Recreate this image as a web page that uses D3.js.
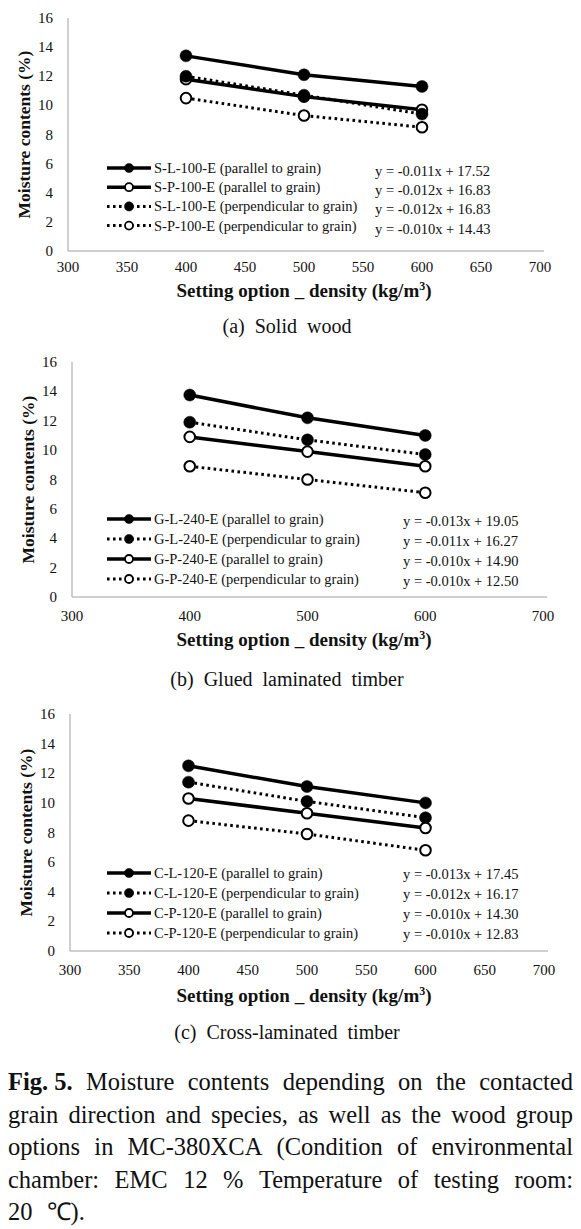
<!DOCTYPE html>
<html><head><meta charset="utf-8">
<script src="https://cdn.jsdelivr.net/npm/d3@7/dist/d3.min.js"></script>
<style>
html,body{margin:0;padding:0;background:#fff;}
svg{display:block;}
text{font-family:"Liberation Serif","Times New Roman",serif;fill:#111;}
</style></head>
<body>
<svg id="chart" width="581" height="1229"></svg>
<script>
// ---------------- DATA ----------------
const densities = [400, 500, 600];
const yTicks = [0, 2, 4, 6, 8, 10, 12, 14, 16];
const xTicksFine = [300, 350, 400, 450, 500, 550, 600, 650, 700];
const xTicksCoarse = [300, 400, 500, 600, 700];

// (a) Solid wood
const solidNames = ["S-L-100-E (parallel to grain)", "S-P-100-E (parallel to grain)",
  "S-L-100-E (perpendicular to grain)", "S-P-100-E (perpendicular to grain)"];
const solidValues = [[13.4, 12.1, 11.3], [11.8, 10.6, 9.7], [12.0, 10.7, 9.4], [10.5, 9.3, 8.5]];
const solidEquations = ["y = -0.011x + 17.52", "y = -0.012x + 16.83", "y = -0.012x + 16.83", "y = -0.010x + 14.43"];

// (b) Glued laminated timber
const gluedNames = ["G-L-240-E (parallel to grain)", "G-L-240-E (perpendicular to grain)",
  "G-P-240-E (parallel to grain)", "G-P-240-E (perpendicular to grain)"];
const gluedValues = [[13.75, 12.2, 11.0], [11.9, 10.7, 9.7], [10.9, 9.9, 8.9], [8.9, 8.0, 7.1]];
const gluedEquations = ["y = -0.013x + 19.05", "y = -0.011x + 16.27", "y = -0.010x + 14.90", "y = -0.010x + 12.50"];

// (c) Cross-laminated timber
const crossNames = ["C-L-120-E (parallel to grain)", "C-L-120-E (perpendicular to grain)",
  "C-P-120-E (parallel to grain)", "C-P-120-E (perpendicular to grain)"];
const crossValues = [[12.5, 11.1, 10.0], [11.4, 10.1, 9.0], [10.3, 9.3, 8.3], [8.8, 7.9, 6.8]];
const crossEquations = ["y = -0.013x + 17.45", "y = -0.012x + 16.17", "y = -0.010x + 14.30", "y = -0.010x + 12.83"];

const subCaptions = ["(a)  Solid  wood", "(b)  Glued  laminated  timber", "(c)  Cross-laminated  timber"];
const yAxisTitle = "Moisture contents (%)";
const xAxisTitle = "Setting option _ density (kg/m";

const captionLines = [
  ["Fig. 5.", "Moisture", "contents", "depending", "on", "the", "contacted"],
  ["grain", "direction", "and", "species,", "as", "well", "as", "the", "wood", "group"],
  ["options", "in", "MC-380XCA", "(Condition", "of", "environmental"],
  ["chamber:", "EMC", "12", "%", "Temperature", "of", "testing", "room:"],
  ["20", "℃)."]
];

// ---------------- LAYOUT ----------------
const panels = [
  {names: solidNames, values: solidValues, eqs: solidEquations, ticks: xTicksFine,
   x0: 68, x1: 540, yT: 18, yB: 251, legY: 168, legStep: 19.2, eqX: 375, eqDy: 3,
   tickY: 272, titleY: 297, subY: 333},
  {names: gluedNames, values: gluedValues, eqs: gluedEquations, ticks: xTicksCoarse,
   x0: 72, x1: 543, yT: 362, yB: 597, legY: 519, legStep: 20, eqX: 403, eqDy: 2,
   tickY: 621, titleY: 646, subY: 686},
  {names: crossNames, values: crossValues, eqs: crossEquations, ticks: xTicksFine,
   x0: 70, x1: 544, yT: 714, yB: 951, legY: 873, legStep: 20, eqX: 403, eqDy: 1,
   tickY: 975, titleY: 1002, subY: 1039}
];

const svg = d3.select("#chart");
svg.append("rect").attr("width", 581).attr("height", 1229).attr("fill", "#fff");

function seriesStyle(name) {
  return {filled: name.includes("-L-"), dotted: name.includes("perpendicular")};
}

panels.forEach((p, pi) => {
  const g = svg.append("g");
  const x = d3.scaleLinear().domain([300, 700]).range([p.x0, p.x1]);
  const y = d3.scaleLinear().domain([0, 16]).range([p.yB, p.yT]);

  // axes lines (grey)
  g.append("line").attr("x1", p.x0).attr("x2", p.x0).attr("y1", p.yT).attr("y2", p.yB)
    .attr("stroke", "#bfbfbf").attr("stroke-width", 1.5);
  g.append("line").attr("x1", p.x0).attr("x2", p.x1 + 4).attr("y1", p.yB).attr("y2", p.yB)
    .attr("stroke", "#bfbfbf").attr("stroke-width", 1.5);

  // y tick labels
  g.selectAll(".yt").data(yTicks).join("text")
    .attr("x", p.x0 - 15).attr("y", d => y(d) + 5)
    .attr("text-anchor", "end").attr("font-size", 15).text(d => d);
  // x tick labels
  g.selectAll(".xt").data(p.ticks).join("text")
    .attr("x", d => x(d)).attr("y", p.tickY)
    .attr("text-anchor", "middle").attr("font-size", 15).text(d => d);

  // axis titles
  g.append("text").attr("transform", `translate(${p.x0 - 38},${(p.yT + p.yB) / 2}) rotate(-90)`)
    .attr("text-anchor", "middle").attr("font-size", 17.5).attr("font-weight", "bold").text(yAxisTitle);
  const xt = g.append("text").attr("x", 304).attr("y", p.titleY)
    .attr("text-anchor", "middle").attr("font-size", 19).attr("font-weight", "bold");
  xt.append("tspan").text(xAxisTitle);
  xt.append("tspan").attr("font-size", 12).attr("dy", -7).text("3");
  xt.append("tspan").attr("dy", 7).text(")");

  // series
  const line = d3.line().x((d, i) => x(densities[i])).y(d => y(d));
  p.names.forEach((name, si) => {
    const st = seriesStyle(name);
    g.append("path").datum(p.values[si]).attr("d", line)
      .attr("fill", "none").attr("stroke", "#000")
      .attr("stroke-width", st.dotted ? 3 : 3.5)
      .attr("stroke-dasharray", st.dotted ? "2.6 3.4" : null);
    g.selectAll(null).data(p.values[si]).join("circle")
      .attr("cx", (d, i) => x(densities[i])).attr("cy", d => y(d))
      .attr("r", st.filled ? 6 : 5.3)
      .attr("fill", st.filled ? "#000" : "#fff")
      .attr("stroke", "#000").attr("stroke-width", st.filled ? 0.5 : 2);
  });

  // legend
  p.names.forEach((name, si) => {
    const st = seriesStyle(name);
    const ly = p.legY + si * p.legStep;
    const lx0 = 107, lx1 = 151, lm = 129;
    if (st.dotted) {
      g.append("line").attr("x1", lx0).attr("x2", lx1).attr("y1", ly).attr("y2", ly)
        .attr("stroke", "#000").attr("stroke-width", 3).attr("stroke-dasharray", "2.6 3.4");
    } else {
      g.append("line").attr("x1", lx0).attr("x2", lx1).attr("y1", ly).attr("y2", ly)
        .attr("stroke", "#000").attr("stroke-width", 3.5);
    }
    g.append("circle").attr("cx", lm).attr("cy", ly).attr("r", st.filled ? 4.6 : 4)
      .attr("fill", st.filled ? "#000" : "#fff").attr("stroke", "#000")
      .attr("stroke-width", st.filled ? 0.5 : 1.8);
    g.append("text").attr("x", 154).attr("y", ly + 5).attr("font-size", 14.5).text(name);
    g.append("text").attr("x", p.eqX).attr("y", ly + 5 + p.eqDy).attr("font-size", 14.5).text(p.eqs[si]);
  });

  // sub caption
  g.append("text").attr("x", 287).attr("y", p.subY).attr("text-anchor", "middle")
    .attr("font-size", 20).style("white-space", "pre").text(subCaptions[pi]);
});

// caption (justified)
const capLeft = 8, capRight = 573, capY0 = 1090, capStep = 32.6;
captionLines.forEach((words, li) => {
  const ly = capY0 + li * capStep;
  const nodes = words.map((w, wi) => {
    const bold = li === 0 && wi === 0;
    return svg.append("text").attr("y", ly).attr("font-size", 24.5)
      .attr("font-weight", bold ? "bold" : "normal").text(w);
  });
  const widths = nodes.map(n => n.node().getComputedTextLength());
  const total = d3.sum(widths);
  const last = li === captionLines.length - 1;
  const gap = last ? 14 : (capRight - capLeft - total) / (words.length - 1);
  let cx = capLeft;
  nodes.forEach((n, i) => { n.attr("x", cx); cx += widths[i] + gap; });
});
</script>
</body></html>
